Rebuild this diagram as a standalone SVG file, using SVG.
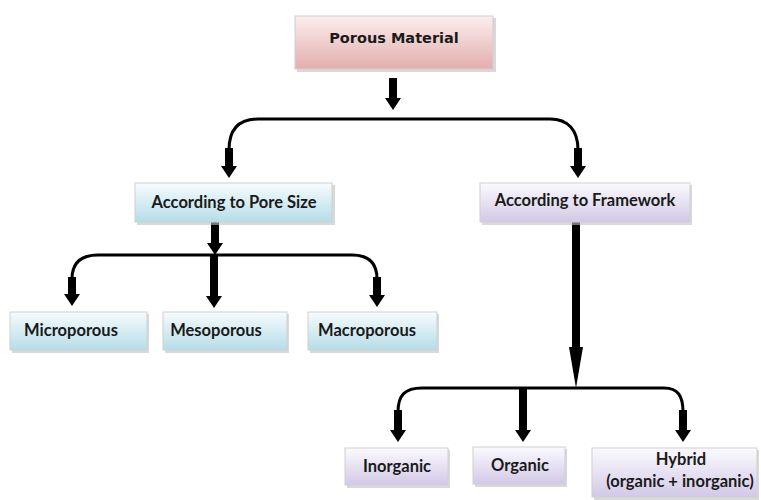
<svg xmlns="http://www.w3.org/2000/svg" width="761" height="500" viewBox="0 0 761 500">
<defs>
<linearGradient id="gPink" x1="0" y1="0" x2="0" y2="1"><stop offset="0" stop-color="#fbeeee"/><stop offset="1" stop-color="#e4adad"/></linearGradient>
<linearGradient id="gCyan" x1="0" y1="0" x2="0" y2="1"><stop offset="0" stop-color="#f6fcfe"/><stop offset="1" stop-color="#b5dde8"/></linearGradient>
<linearGradient id="gPurple" x1="0" y1="0" x2="0" y2="1"><stop offset="0" stop-color="#fbfaff"/><stop offset="1" stop-color="#d2c9e6"/></linearGradient>
<marker id="head" viewBox="0 -8 12 16" refX="0" refY="0" markerWidth="12" markerHeight="16" markerUnits="userSpaceOnUse" orient="auto"><path d="M0,-8 L12,0 L0,8 z" fill="#000"/></marker>
</defs>
<style>
.shadow{fill:#bfbfbf;opacity:0.6}
.box{stroke:#d0d0d0;stroke-width:1}
.pink{fill:url(#gPink)}
.cyan{fill:url(#gCyan)}
.purple{fill:url(#gPurple)}
.t{font-family:Lato,"Open Sans",sans-serif;font-weight:700;font-size:16.5px;fill:#1a1a1a;text-anchor:middle;dominant-baseline:central}
.t2{font-family:"DejaVu Sans",Verdana,sans-serif;font-weight:700;font-size:14.5px;fill:#1a1a1a;text-anchor:middle;dominant-baseline:central}
.line{fill:none;stroke:#000;stroke-width:3}
.shaft{fill:none;stroke:#000;stroke-width:8;marker-end:url(#head)}
</style>

<g id="connectors">
<path class="shaft" d="M393,78 L393,98"/>
<path class="line" d="M229,150 C229,130 238,119 258,119 L550,119 C568,119 578,130 578,150"/>
<path class="shaft" d="M229,148 L229,166"/>
<path class="shaft" d="M578,148 L578,166"/>
<path class="shaft" d="M215,222 L215,243"/>
<path class="line" d="M72,279 C72,263 81,255 98,255 L352,255 C369,255 377,263 377,279"/>
<path class="shaft" d="M72,277 L72,294"/>
<path class="shaft" d="M214,255 L214,296"/>
<path class="shaft" d="M377,277 L377,295"/>
<polygon points="572,222 580,222 580,347 583,347 576,388 569,347 572,347" fill="#000"/>
<path class="line" d="M398,412 C398,395 405,388 422,388 L664,388 C678,388 683,396 683,412"/>
<path class="shaft" d="M398,410 L398,430"/>
<path class="shaft" d="M523,388 L523,430"/>
<path class="shaft" d="M683,410 L683,430"/>
</g>

<g id="porous-material">
<rect class="shadow" x="297" y="18" width="199" height="54"/>
<rect class="box pink" x="295" y="16" width="198" height="53"/>
<text class="t2" x="394" y="38">Porous Material</text>
</g>

<g id="pore-size">
<rect class="shadow" x="137" y="185" width="198" height="40"/>
<rect class="box cyan" x="135" y="183" width="197" height="39"/>
<text class="t" x="234" y="202">According to Pore Size</text>
</g>

<g id="framework">
<rect class="shadow" x="482" y="185" width="210" height="40"/>
<rect class="box purple" x="480" y="183" width="210" height="39"/>
<text class="t" x="585" y="200">According to Framework</text>
</g>

<g id="microporous">
<rect class="shadow" x="12" y="314" width="137" height="39"/>
<rect class="box cyan" x="10" y="312" width="137" height="38"/>
<text class="t" x="71" y="330">Microporous</text>
</g>

<g id="mesoporous">
<rect class="shadow" x="165" y="314" width="124" height="39"/>
<rect class="box cyan" x="163" y="312" width="124" height="38"/>
<text class="t" x="216" y="330">Mesoporous</text>
</g>

<g id="macroporous">
<rect class="shadow" x="310" y="314" width="129" height="39"/>
<rect class="box cyan" x="308" y="312" width="129" height="38"/>
<text class="t" x="367" y="330">Macroporous</text>
</g>

<g id="inorganic">
<rect class="shadow" x="347" y="450" width="103" height="38"/>
<rect class="box purple" x="345" y="448" width="103" height="37"/>
<text class="t" x="397" y="466">Inorganic</text>
</g>

<g id="organic">
<rect class="shadow" x="475" y="449" width="92" height="38"/>
<rect class="box purple" x="473" y="447" width="92" height="37"/>
<text class="t" x="520" y="465">Organic</text>
</g>

<g id="hybrid">
<rect class="shadow" x="594" y="450" width="165" height="50"/>
<rect class="box purple" x="592" y="448" width="165" height="49"/>
<text class="t" x="681" y="459">Hybrid</text>
<text class="t" x="680" y="481">(organic + inorganic)</text>
</g>
</svg>
